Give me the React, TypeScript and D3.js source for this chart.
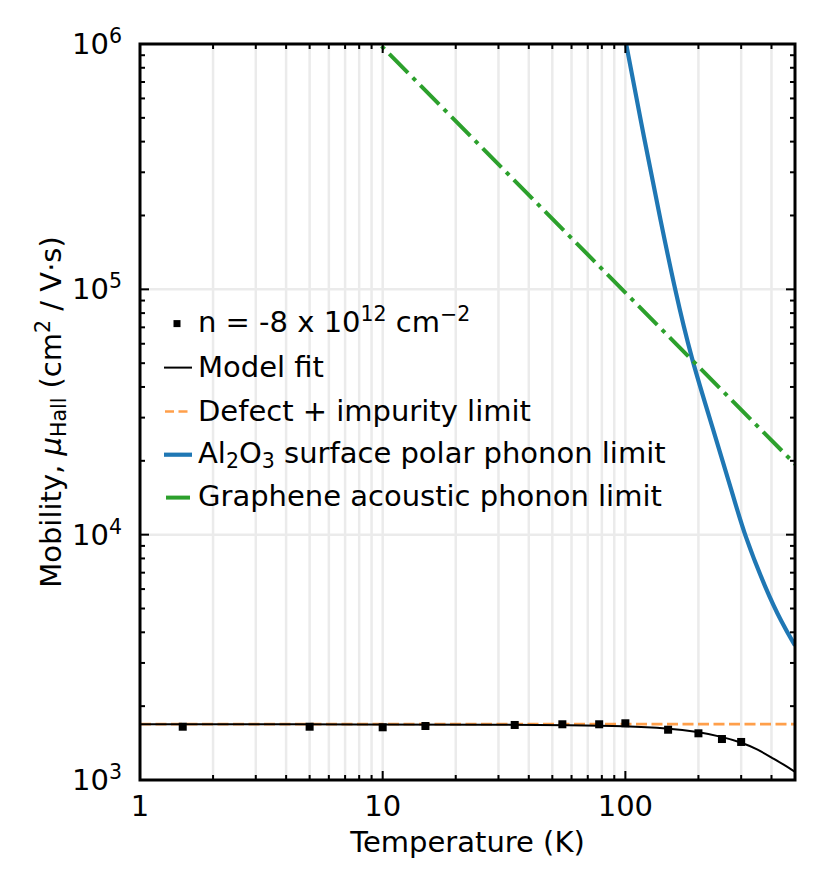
import React from "react";
import * as d3 from "d3";

// ---- data ----
const dataT = [1.5, 5, 10, 15, 35, 55, 78, 100, 150, 200, 250, 300];
const dataMu = [1649, 1649, 1640, 1660, 1676, 1687, 1687, 1703, 1603, 1550, 1469, 1429];

const fitT = [1, 10, 30, 60, 100, 150, 200, 250, 300, 350, 400, 450, 500];
const fitMu = [1688, 1686, 1681, 1672, 1659, 1627, 1571, 1500, 1425, 1335, 1235, 1155, 1080];

const defectT = [1, 500];
const defectMu = [1690, 1690];

const sppT = [100, 120, 140, 160, 186, 230, 276, 309, 380, 440, 500];
const sppMu = [1.04e6, 4.03e5, 1.884e5, 1.0e5, 5.31e4, 2.69e4, 1.479e4, 1.0e4, 5957, 4395, 3532];

const acT = [1, 500];
const acMu = [9.7e6, 19400];

const xMajor = [1, 10, 100];
const xMinor = [2, 3, 4, 5, 6, 7, 8, 9, 20, 30, 40, 50, 60, 70, 80, 90, 200, 300, 400, 500];
const yMajorExp = [3, 4, 5, 6];
const yMinor = [2e3, 3e3, 4e3, 5e3, 6e3, 7e3, 8e3, 9e3, 2e4, 3e4, 4e4, 5e4, 6e4, 7e4, 8e4, 9e4, 2e5, 3e5, 4e5, 5e5, 6e5, 7e5, 8e5, 9e5];

const W = 827, H = 886;
const L = 140, R = 795, T = 44, B = 780;
const FONT = "DejaVu Sans";

export default function App() {
  const x = d3.scaleLog().domain([1, 500]).range([L, R]);
  const y = d3.scaleLog().domain([1e3, 1e6]).range([B, T]);

  const mk = (ts: number[], ms: number[], curve: d3.CurveFactory = d3.curveBasis) =>
    d3.line<number>().x((_, i) => x(ts[i])).y((_, i) => y(ms[i])).curve(curve)(ts.map((_, i) => i)) || "";

  const fitPath = mk(fitT, fitMu);
  const defPath = mk(defectT, defectMu, d3.curveLinear);
  const sppPath = mk(sppT, sppMu);
  const acPath = mk(acT, acMu, d3.curveLinear);

  const gridColor = "#ebebeb";
  const legX0 = 164, legX1 = 192, legTX = 198;
  const fs = 29, sfs = 20.5;

  return (
    <svg width={W} height={H} style={{ position: "absolute", left: 0, top: 0, background: "#fff" }} fontFamily={FONT}>
      <defs>
        <clipPath id="plotClip">
          <rect x={L} y={T} width={R - L} height={B - T} />
        </clipPath>
      </defs>
      <rect x={0} y={0} width={W} height={H} fill="#fff" />
      {/* grid */}
      <g>
        {[...xMajor.slice(1), ...xMinor.slice(0, -1)].map((v) => (
          <line key={"gx" + v} x1={x(v)} x2={x(v)} y1={T} y2={B} stroke={gridColor} strokeWidth={2.5} />
        ))}
        {[4, 5].map((e) => (
          <line key={"gy" + e} x1={L} x2={R} y1={y(Math.pow(10, e))} y2={y(Math.pow(10, e))} stroke={gridColor} strokeWidth={2.5} />
        ))}
      </g>
      {/* series */}
      <g clipPath="url(#plotClip)">
        <path d={defPath} fill="none" stroke="#ff7f0e" strokeOpacity={0.75} strokeWidth={2.6} strokeDasharray="11,4.5" />
        <path d={fitPath} fill="none" stroke="#000" strokeWidth={2} />
        <path d={sppPath} fill="none" stroke="#1f77b4" strokeWidth={4.2} />
        <path d={acPath} fill="none" stroke="#2ca02c" strokeWidth={4} strokeDasharray="26.7,6.7,4.2,6.7" />
        {dataT.map((t, i) => (
          <rect key={"p" + i} x={x(t) - 4} y={y(dataMu[i]) - 4} width={8} height={8} fill="#000" />
        ))}
      </g>
      {/* ticks */}
      <g stroke="#000" strokeWidth={2}>
        {xMajor.map((v) => (
          <g key={"xM" + v}>
            <line x1={x(v)} x2={x(v)} y1={B} y2={B - 9} />
            <line x1={x(v)} x2={x(v)} y1={T} y2={T + 9} />
          </g>
        ))}
        {xMinor.map((v) => (
          <g key={"xm" + v}>
            <line x1={x(v)} x2={x(v)} y1={B} y2={B - 5} />
            <line x1={x(v)} x2={x(v)} y1={T} y2={T + 5} />
          </g>
        ))}
        {yMajorExp.map((e) => (
          <g key={"yM" + e}>
            <line x1={L} x2={L + 9} y1={y(Math.pow(10, e))} y2={y(Math.pow(10, e))} />
            <line x1={R} x2={R - 9} y1={y(Math.pow(10, e))} y2={y(Math.pow(10, e))} />
          </g>
        ))}
        {yMinor.map((v) => (
          <g key={"ym" + v}>
            <line x1={L} x2={L + 5} y1={y(v)} y2={y(v)} />
            <line x1={R} x2={R - 5} y1={y(v)} y2={y(v)} />
          </g>
        ))}
      </g>
      {/* frame */}
      <rect x={L} y={T} width={R - L} height={B - T} fill="none" stroke="#000" strokeWidth={3} />
      {/* x tick labels */}
      {xMajor.map((v) => (
        <text key={"xl" + v} x={x(v)} y={816} fontSize={fs} textAnchor="middle">{v}</text>
      ))}
      {/* y tick labels */}
      {yMajorExp.map((e) => (
        <text key={"yl" + e} x={122} y={y(Math.pow(10, e)) + 10} fontSize={fs} textAnchor="end">
          10<tspan fontSize={sfs} dy={-11}>{e}</tspan>
        </text>
      ))}
      {/* axis labels */}
      <text x={(L + R) / 2} y={852} fontSize={fs} textAnchor="middle">Temperature (K)</text>
      <text transform={`translate(61,${(T + B) / 2}) rotate(-90)`} fontSize={fs} textAnchor="middle">
        Mobility, <tspan fontStyle="italic">μ</tspan>
        <tspan fontSize={sfs} dy={5}>Hall</tspan>
        <tspan dy={-5}> (cm</tspan>
        <tspan fontSize={sfs} dy={-11}>2</tspan>
        <tspan dy={11}> / V·s)</tspan>
      </text>
      {/* legend */}
      <g fontSize={fs}>
        <rect x={177 - 3.5} y={323.6 - 3.5} width={7} height={7} fill="#000" />
        <text x={legTX} y={332}>
          n = -8 x 10<tspan fontSize={sfs} dy={-11}>12</tspan>
          <tspan dy={11}> cm</tspan>
          <tspan fontSize={sfs} dy={-11}>−2</tspan>
        </text>

        <line x1={legX0} x2={legX1} y1={367.6} y2={367.6} stroke="#000" strokeWidth={2} />
        <text x={legTX} y={377}>Model fit</text>

        <line x1={legX0 + 1} x2={legX1} y1={411.5} y2={411.5} stroke="#ff7f0e" strokeOpacity={0.75} strokeWidth={2.6} strokeDasharray="9,4.5" />
        <text x={legTX} y={421}>Defect + impurity limit</text>

        <line x1={legX0} x2={legX1} y1={454.7} y2={454.7} stroke="#1f77b4" strokeWidth={4.2} />
        <text x={legTX} y={463}>
          Al<tspan fontSize={sfs} dy={5}>2</tspan>
          <tspan dy={-5}>O</tspan>
          <tspan fontSize={sfs} dy={5}>3</tspan>
          <tspan dy={-5}> surface polar phonon limit</tspan>
        </text>

        <line x1={legX0 + 2} x2={legX1 - 2} y1={497.6} y2={497.6} stroke="#2ca02c" strokeWidth={4} />
        <text x={legTX} y={506}>Graphene acoustic phonon limit</text>
      </g>
    </svg>
  );
}
